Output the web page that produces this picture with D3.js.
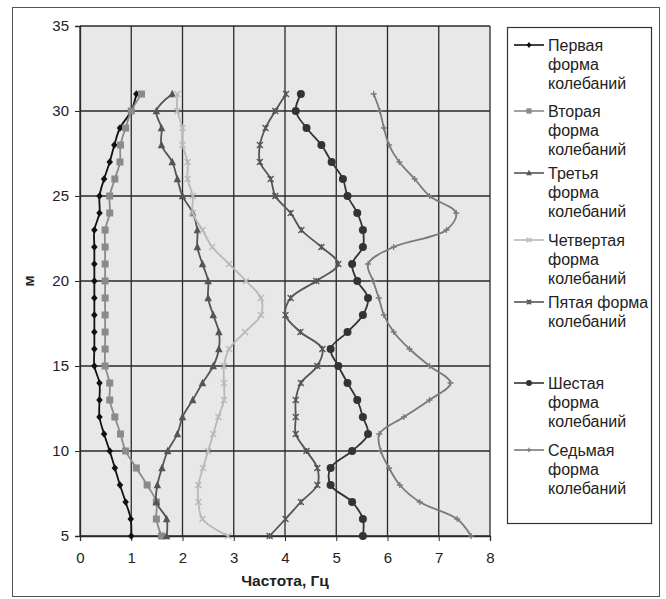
<!DOCTYPE html>
<html>
<head>
<meta charset="utf-8">
<script src="https://cdn.jsdelivr.net/npm/d3@7/dist/d3.min.js"></script>
<style>
  html, body { margin: 0; padding: 0; background: #fff; }
  svg { display: block; font-family: Arial, "Liberation Sans", sans-serif; }
</style>
</head>
<body>
<svg id="chart" width="666" height="599"></svg>
<script>
// Heights (m) at which frequencies were measured, top to bottom
const heights = [31,30,29,28,27,26,25,24,23,22,21,20,19,18,17,16,15,14,13,12,11,10,9,8,7,6,5];

// Frequencies (Hz) of each mode shape at the heights above
const mode1 = [1.10,1.00,0.78,0.67,0.58,0.47,0.38,0.38,0.28,0.28,0.28,0.28,0.28,0.28,0.28,0.28,0.28,0.38,0.38,0.38,0.47,0.58,0.68,0.78,0.89,0.99,1.00];
const mode2 = [1.20,1.00,0.89,0.79,0.78,0.68,0.58,0.58,0.49,0.49,0.49,0.49,0.49,0.49,0.49,0.49,0.49,0.58,0.58,0.68,0.79,0.89,1.10,1.31,1.49,1.49,1.59];
const mode3 = [1.80,1.49,1.59,1.59,1.80,1.90,2.00,2.20,2.29,2.29,2.39,2.50,2.50,2.60,2.71,2.71,2.60,2.39,2.20,2.00,1.90,1.71,1.60,1.51,1.49,1.69,1.69];
const mode4 = [1.90,1.90,2.00,2.00,2.10,2.10,2.20,2.20,2.39,2.58,2.91,3.24,3.53,3.53,3.22,2.91,2.81,2.81,2.81,2.70,2.60,2.50,2.40,2.31,2.31,2.39,2.89];
const mode5 = [4.02,3.81,3.62,3.51,3.51,3.72,3.81,4.11,4.32,4.71,5.04,4.61,4.11,4.01,4.30,4.73,4.63,4.31,4.21,4.21,4.21,4.42,4.63,4.63,4.31,4.01,3.70];
const mode6 = [4.31,4.21,4.42,4.71,4.91,5.13,5.22,5.41,5.52,5.52,5.31,5.41,5.62,5.52,5.22,4.89,5.04,5.22,5.41,5.52,5.62,5.31,4.89,4.89,5.31,5.52,5.52];
const mode7 = [5.73,5.85,5.93,6.03,6.23,6.53,6.82,7.34,7.15,6.12,5.62,5.72,5.83,5.93,6.12,6.43,6.82,7.23,6.82,6.32,5.84,5.87,6.03,6.24,6.63,7.36,7.63];

// Legend labels, one array of lines per series
const seriesNames = [
  ["Первая", "форма", "колебаний"],
  ["Вторая", "форма", "колебаний"],
  ["Третья", "форма", "колебаний"],
  ["Четвертая", "форма", "колебаний"],
  ["Пятая форма", "колебаний"],
  ["Шестая", "форма", "колебаний"],
  ["Седьмая", "форма", "колебаний"]
];

// Axis ticks
const xTicks = [0,1,2,3,4,5,6,7,8];
const yTicks = [5,10,15,20,25,30,35];
const xTitle = "Частота, Гц";
const yTitle = "м";

// Styling per series
const styles = [
  { color: "#111111", marker: "diamond", size: 6.5 },
  { color: "#8a8a8a", marker: "square",  size: 7 },
  { color: "#555555", marker: "triangle", size: 7.5 },
  { color: "#b8b8b8", marker: "cross", size: 6 },
  { color: "#555555", marker: "asterisk", size: 6 },
  { color: "#333333", marker: "circle", size: 8 },
  { color: "#7a7a7a", marker: "plus", size: 6 }
];
const modes = [mode1, mode2, mode3, mode4, mode5, mode6, mode7];

const svg = d3.select("#chart");

// Outer frame
svg.append("rect").attr("x", 12.5).attr("y", 7.5).attr("width", 647).attr("height", 589)
  .attr("fill", "#fff").attr("stroke", "#555").attr("stroke-width", 1);

const plot = { left: 80, right: 490, top: 26, bottom: 536 };
const x = d3.scaleLinear().domain([0, 8]).range([plot.left, plot.right]);
const y = d3.scaleLinear().domain([5, 35]).range([plot.bottom, plot.top]);

// Plot background
svg.append("rect").attr("x", plot.left).attr("y", plot.top)
  .attr("width", plot.right - plot.left).attr("height", plot.bottom - plot.top)
  .attr("fill", "#e8e8e8");

// Grid lines
const grid = svg.append("g").attr("stroke", "#2a2a2a").attr("stroke-width", 1.3);
xTicks.forEach(t => grid.append("line")
  .attr("x1", x(t)).attr("x2", x(t)).attr("y1", plot.top).attr("y2", plot.bottom));
yTicks.forEach(t => grid.append("line")
  .attr("x1", plot.left).attr("x2", plot.right).attr("y1", y(t)).attr("y2", y(t)));

// Axes
const xAxis = svg.append("g").attr("transform", `translate(0,${plot.bottom})`)
  .call(d3.axisBottom(x).tickValues(xTicks).tickFormat(d3.format("d")).tickSize(5).tickPadding(11));
const yAxis = svg.append("g").attr("transform", `translate(${plot.left},0)`)
  .call(d3.axisLeft(y).tickValues(yTicks).tickFormat(d3.format("d")).tickSize(5).tickPadding(6));
[xAxis, yAxis].forEach(a => {
  a.select(".domain").attr("stroke", "#2a2a2a").attr("stroke-width", 1.3);
  a.selectAll(".tick line").attr("stroke", "#2a2a2a");
  a.selectAll(".tick text").attr("fill", "#222").style("font-size", "15px")
    .style("font-family", "Arial, 'Liberation Sans', sans-serif");
});

// Axis titles
svg.append("text").attr("x", x(4)).attr("y", 586).attr("text-anchor", "middle")
  .style("font-size", "15.5px").style("font-weight", "bold").attr("fill", "#222").text(xTitle);
svg.append("text").attr("transform", `translate(34,${y(20)}) rotate(-90)`).attr("text-anchor", "middle")
  .style("font-size", "15px").style("font-weight", "bold").attr("fill", "#222").text(yTitle);

// Marker drawing
function drawMarker(g, type, cx, cy, s, color) {
  const h = s / 2;
  switch (type) {
    case "diamond":
      g.append("path").attr("d", `M${cx},${cy - h - 0.5}L${cx + h},${cy}L${cx},${cy + h + 0.5}L${cx - h},${cy}Z`).attr("fill", color);
      break;
    case "square":
      g.append("rect").attr("x", cx - h).attr("y", cy - h).attr("width", s).attr("height", s).attr("fill", color);
      break;
    case "triangle":
      g.append("path").attr("d", `M${cx},${cy - h - 0.5}L${cx + h},${cy + h - 0.5}L${cx - h},${cy + h - 0.5}Z`).attr("fill", color);
      break;
    case "circle":
      g.append("circle").attr("cx", cx).attr("cy", cy).attr("r", h).attr("fill", color);
      break;
    case "cross":
      g.append("path").attr("d", `M${cx - h},${cy - h}L${cx + h},${cy + h}M${cx - h},${cy + h}L${cx + h},${cy - h}`)
        .attr("stroke", color).attr("stroke-width", 1.3).attr("fill", "none");
      break;
    case "asterisk":
      g.append("path").attr("d", `M${cx - h},${cy - h}L${cx + h},${cy + h}M${cx - h},${cy + h}L${cx + h},${cy - h}M${cx},${cy - h}L${cx},${cy + h}`)
        .attr("stroke", color).attr("stroke-width", 1.3).attr("fill", "none");
      break;
    case "plus":
      g.append("path").attr("d", `M${cx - h},${cy}L${cx + h},${cy}M${cx},${cy - h}L${cx},${cy + h}`)
        .attr("stroke", color).attr("stroke-width", 1.3).attr("fill", "none");
      break;
  }
}

// Series lines and markers
const line = d3.line().x(d => x(d[0])).y(d => y(d[1])).curve(d3.curveCatmullRom.alpha(0.5));
modes.forEach((vals, i) => {
  const st = styles[i];
  const pts = vals.map((v, k) => [v, heights[k]]);
  const g = svg.append("g");
  g.append("path").attr("d", line(pts)).attr("fill", "none")
    .attr("stroke", st.color).attr("stroke-width", 1.8);
  pts.forEach(p => drawMarker(g, st.marker, x(p[0]), y(p[1]), st.size, st.color));
});

// Legend
const legend = svg.append("g");
legend.append("rect").attr("x", 507.5).attr("y", 27.5).attr("width", 144).attr("height", 496)
  .attr("fill", "#fff").attr("stroke", "#333").attr("stroke-width", 1.2);
const legendTop = [45, 111, 173, 240, 302, 383, 450];
const lineGap = 19;
seriesNames.forEach((lines, i) => {
  const st = styles[i];
  const ly = legendTop[i];
  legend.append("line").attr("x1", 514).attr("x2", 544).attr("y1", ly).attr("y2", ly)
    .attr("stroke", st.color).attr("stroke-width", 1.6);
  drawMarker(legend, st.marker, 529, ly, st.size * 0.75, st.color);
  lines.forEach((t, j) => {
    legend.append("text").attr("x", 548).attr("y", ly + j * lineGap + 6)
      .style("font-size", "16px").attr("fill", "#222").text(t);
  });
});
</script>
</body>
</html>
